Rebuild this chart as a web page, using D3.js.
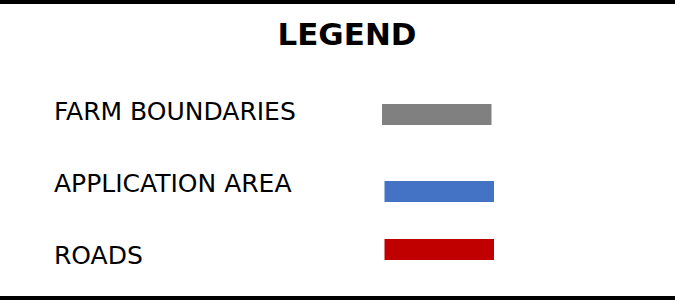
<!DOCTYPE html>
<html lang="en">
<head>
<meta charset="UTF-8">
<title>Legend</title>
<script src="https://cdn.jsdelivr.net/npm/d3@7"></script>
<style>
  body { margin: 0; background: #fff; }
  svg { display: block; }
</style>
</head>
<body>
<svg width="675" height="300"></svg>
<script>
const title = "LEGEND";
const labels = ["FARM BOUNDARIES", "APPLICATION AREA", "ROADS"];
const colors = ["#808080", "#4472C4", "#C00000"];

const width = 675, height = 300;
const svg = d3.select("svg");
const font = "'DejaVu Sans', Verdana, sans-serif";

// heavy rules top and bottom
svg.append("rect").attr("x", 0).attr("y", 0).attr("width", width).attr("height", 4).attr("fill", "#000");
svg.append("rect").attr("x", 0).attr("y", height - 4).attr("width", width).attr("height", 4).attr("fill", "#000");

svg.append("text")
    .attr("x", 347).attr("y", 45)
    .attr("text-anchor", "middle")
    .attr("font-family", font)
    .attr("font-weight", "bold")
    .attr("font-size", 30.5)
    .attr("textLength", 139)
    .attr("lengthAdjust", "spacingAndGlyphs")
    .text(title);

// text baselines sit on the point scale
const y = d3.scalePoint().domain(labels).range([119.5, 263.5]);

const rows = svg.selectAll("g.row")
    .data(labels)
    .join("g")
    .attr("class", "row")
    .attr("transform", d => `translate(0,${y(d)})`);

rows.append("text")
    .attr("x", 54)
    .attr("y", 0)
    .attr("font-family", font)
    .attr("font-size", 25)
    .attr("fill", "#000")
    .text(d => d);

// swatches don't line up exactly with the text in the original
const swatchTop = [-15.5, -10.5, -24.5];
const swatchLeft = [382, 384.5, 384.5];
rows.append("rect")
    .attr("x", (d, i) => swatchLeft[i])
    .attr("y", (d, i) => swatchTop[i])
    .attr("width", 109.5)
    .attr("height", 21)
    .attr("fill", (d, i) => colors[i]);
</script>
</body>
</html>
